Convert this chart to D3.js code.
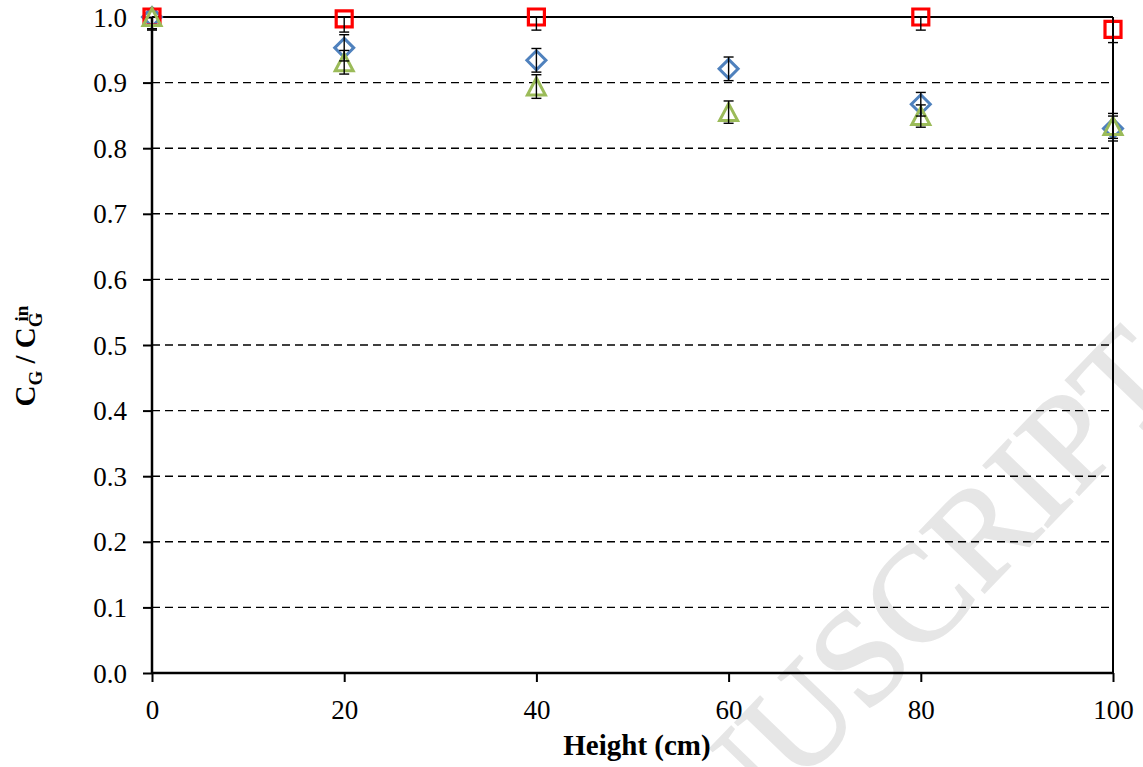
<!DOCTYPE html>
<html><head><meta charset="utf-8">
<script src="https://cdn.jsdelivr.net/npm/d3@7"></script>
<style>body{margin:0;background:#fff} svg{display:block}</style>
</head><body>
<svg id="chart" width="1143" height="767"></svg>
<script>
const heights = [0, 20, 40, 60, 80, 100];
const diamondValues = [1.000, 0.953, 0.934, 0.921, 0.867, 0.830];
const diamondErrors = [0.018, 0.020, 0.018, 0.018, 0.018, 0.019];
const squareValues = [1.000, 0.997, 1.000, null, 1.000, 0.981];
const squareErrors = [0.020, 0.020, 0.020, null, 0.020, 0.020];
const triangleValues = [1.000, 0.931, 0.894, 0.855, 0.849, 0.834];
const triangleErrors = [0.018, 0.018, 0.018, 0.017, 0.017, 0.019];
const xTicks = [0, 20, 40, 60, 80, 100];
const yTicks = [0.0, 0.1, 0.2, 0.3, 0.4, 0.5, 0.6, 0.7, 0.8, 0.9, 1.0];
const xTitle = "Height (cm)";
const watermark = "ACCEPTED MANUSCRIPT";

const W = 1143, H = 767;
const m = {left: 152, right: 30, top: 17, bottom: 94};
const FONT = "'Liberation Serif', 'Times New Roman', serif";
const svg = d3.select("#chart");

// watermark behind everything
svg.append("text")
  .attr("transform", "translate(1186,384) rotate(-46)")
  .attr("text-anchor", "end")
  .attr("font-family", FONT)
  .attr("font-size", 136)
  .attr("fill", "#e6e6e6")
  .attr("stroke", "#e6e6e6")
  .attr("stroke-width", 2)
  .text(watermark);

const x = d3.scaleLinear().domain([0, 100]).range([m.left, W - m.right]);
const y = d3.scaleLinear().domain([0, 1]).range([H - m.bottom, m.top]);

// gridlines
svg.append("g").selectAll("line")
  .data(yTicks.filter(t => t > 0 && t < 1))
  .join("line")
  .attr("x1", x(0)).attr("x2", x(100))
  .attr("y1", d => y(d)).attr("y2", d => y(d))
  .attr("stroke", "#000").attr("stroke-width", 1.4)
  .attr("stroke-dasharray", "8,5");

// top and right border
svg.append("line").attr("x1", x(0)).attr("x2", x(100)).attr("y1", y(1)).attr("y2", y(1))
  .attr("stroke", "#000").attr("stroke-width", 2);
svg.append("line").attr("x1", x(100)).attr("x2", x(100)).attr("y1", y(1)).attr("y2", y(0))
  .attr("stroke", "#000").attr("stroke-width", 2);

// axes
const yAxis = d3.axisLeft(y).tickValues(yTicks).tickFormat(d3.format(".1f")).tickSize(9).tickPadding(16);
const xAxis = d3.axisBottom(x).tickValues(xTicks).tickFormat(d3.format("d")).tickSize(9).tickPadding(18);
const gy = svg.append("g").attr("transform", `translate(${m.left},0)`).call(yAxis);
const gx = svg.append("g").attr("transform", `translate(0,${H - m.bottom})`).call(xAxis);
[gx, gy].forEach(g => {
  g.select(".domain").attr("stroke", "#000").attr("stroke-width", 2.5);
  g.selectAll(".tick line").attr("stroke", "#000").attr("stroke-width", 2);
  g.selectAll(".tick text").attr("font-family", FONT).attr("font-size", 27).attr("fill", "#000");
});
gy.select(".domain").attr("d", `M0,${y(0)}V${y(1)}`);
gx.select(".domain").attr("d", `M${x(0)},0H${x(100)}`);
gy.selectAll(".tick text").attr("dy", "0.34em");
gx.selectAll(".tick text").attr("dy", "0.72em");

// markers
function pts(vals, errs) {
  return heights.map((h, i) => ({h, v: vals[i], e: errs[i]})).filter(d => d.v !== null);
}
const series = [
  {name: "diamond", data: pts(diamondValues, diamondErrors), color: "#4F81BD"},
  {name: "square", data: pts(squareValues, squareErrors), color: "#FF0000"},
  {name: "triangle", data: pts(triangleValues, triangleErrors), color: "#9BBB59"}
];
const shapes = {
  diamond: "M0,-9.5L9.5,0L0,9.5L-9.5,0Z",
  square: "M-8,-8H8V8H-8Z",
  triangle: "M0,-8.5L9,8.5L-9,8.5Z"
};
const mg = svg.append("g");
series.forEach(s => {
  mg.append("g").selectAll("path").data(s.data).join("path")
    .attr("transform", d => `translate(${x(d.h)},${y(d.v)})`)
    .attr("d", shapes[s.name])
    .attr("fill", "none")
    .attr("stroke", s.color)
    .attr("stroke-width", s.name === "square" ? 3.2 : 3)
    .attr("stroke-linejoin", "miter");
});

// error bars (clipped to plot area)
svg.append("clipPath").attr("id", "plotclip").append("rect")
  .attr("x", 0).attr("y", y(1)).attr("width", W).attr("height", y(0) - y(1) + 20);
const eg = svg.append("g").attr("clip-path", "url(#plotclip)");
series.forEach(s => {
  const g = eg.append("g").attr("stroke", "#000").attr("stroke-width", 1.4);
  s.data.forEach(d => {
    const cx = x(d.h), y1 = y(d.v - d.e), y2 = y(d.v + d.e);
    g.append("line").attr("x1", cx).attr("x2", cx).attr("y1", y1).attr("y2", y2);
    g.append("line").attr("x1", cx - 5).attr("x2", cx + 5).attr("y1", y1).attr("y2", y1);
    g.append("line").attr("x1", cx - 5).attr("x2", cx + 5).attr("y1", y2).attr("y2", y2);
  });
});

// x title
svg.append("text")
  .attr("x", 637).attr("y", 755)
  .attr("text-anchor", "middle")
  .attr("font-family", FONT).attr("font-weight", "bold").attr("font-size", 29)
  .text(xTitle);

// y title
const yl = svg.append("text")
  .attr("transform", "translate(35,356) rotate(-90)")
  .attr("text-anchor", "middle")
  .attr("font-family", FONT).attr("font-weight", "bold").attr("font-size", 29);
yl.append("tspan").text("C");
yl.append("tspan").attr("font-size", 19).attr("dy", 7).text("G");
yl.append("tspan").attr("dy", -7).text(" / C");
yl.append("tspan").attr("font-size", 19).attr("dy", 7).text("G");
yl.append("tspan").attr("font-size", 19).attr("dx", -9).attr("dy", -14).text("in");
</script>
</body></html>
